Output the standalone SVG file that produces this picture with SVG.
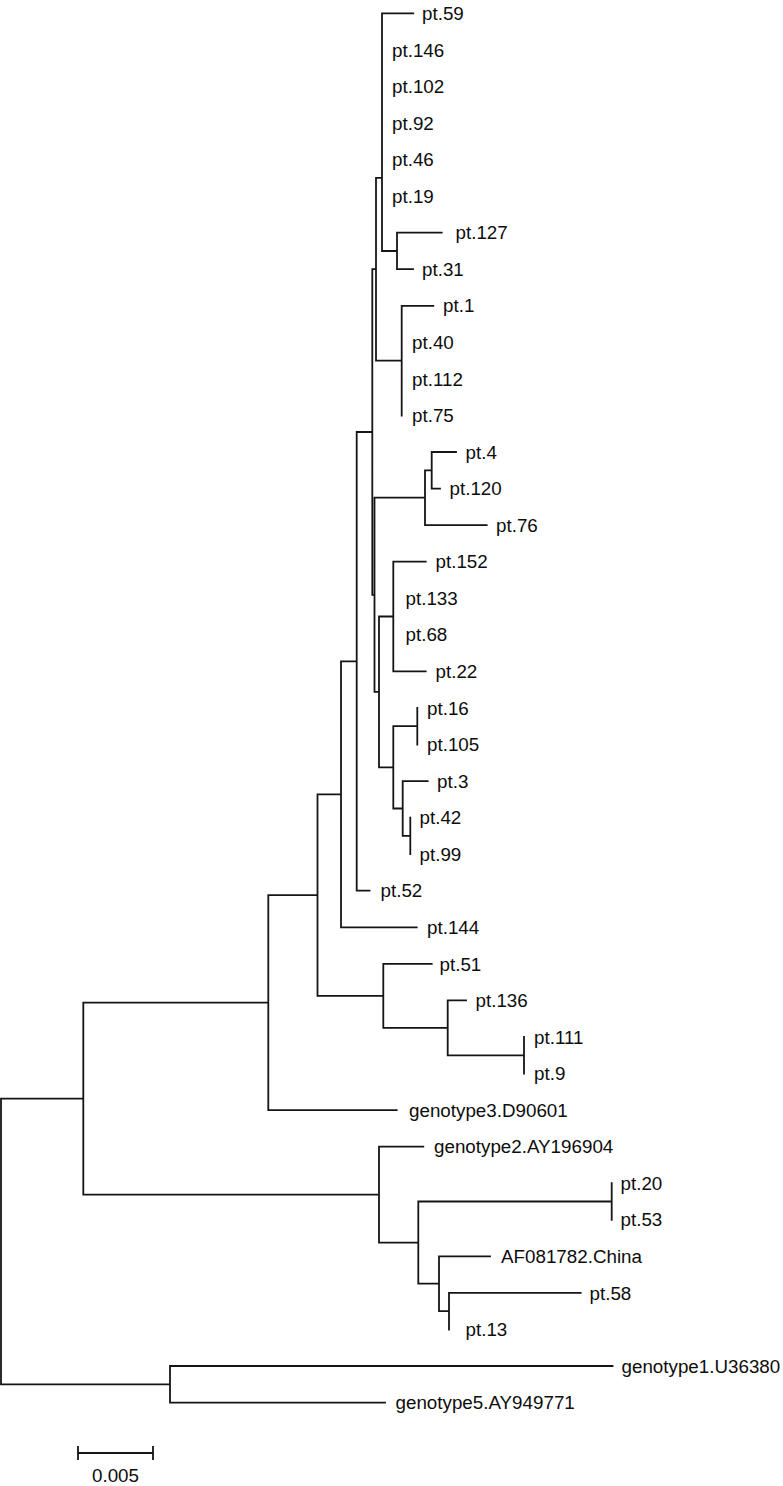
<svg xmlns="http://www.w3.org/2000/svg" width="783" height="1486" viewBox="0 0 783 1486">
<style>
.br{fill:none;stroke:#151515;stroke-width:1.8;stroke-linecap:square}
text{font-family:"Liberation Sans",Arial,Helvetica,sans-serif;font-size:18.8px;fill:#0d0d0d}
</style>
<rect width="783" height="1486" fill="#ffffff"/>
<g id="branches" class="br">
<path d="M1,1098.6 V1384.3 M1,1098.6 H83.3 M1,1384.3 H170
M83.3,1002.6 V1194.7 M83.3,1002.6 H268.3 M83.3,1194.7 H379
M268.3,895.1 V1110.1 M268.3,895.1 H317.5 M268.3,1110.1 H396.7
M317.5,794.3 V995.9 M317.5,794.3 H341 M317.5,995.9 H383.3
M341,661.3 V927.3 M341,661.3 H356.7 M341,927.3 H416.7
M356.7,432 V890.7 M356.7,432 H372.3 M356.7,890.7 H369.5
M372.3,269.2 V594.8 M372.3,269.2 H376 M372.3,594.8 H374.5
M376,177.8 V360.6 M376,177.8 H382 M376,360.6 H401.7
M382,13.3 V251 M382,251 H397 M382,13.3 H413.3
M397,232.7 V269.2 M397,232.7 H441.7 M397,269.2 H413
M401.7,305.8 V415.5 M401.7,305.8 H433.3
M374.5,497.7 V691.9 M374.5,497.7 H425 M374.5,691.9 H379
M425,470.3 V525.1 M425,470.3 H431.7 M425,525.1 H486.7
M431.7,452 V488.6 M431.7,452 H456 M431.7,488.6 H440
M379,616.5 V767.3 M379,616.5 H393.3 M379,767.3 H393.3
M393.3,561.7 V671.4 M393.3,561.7 H425.7 M393.3,671.4 H425.7
M393.3,726.2 V808.5 M393.3,726.2 H417.3 M393.3,808.5 H402.7
M417.3,707.9 V744.5
M402.7,781.1 V835.9 M402.7,781.1 H427.7 M402.7,835.9 H410.3
M410.3,817.6 V854.2
M383.3,963.9 V1027.8 M383.3,963.9 H431.7 M383.3,1027.8 H447.7
M447.7,1000.4 V1055.3 M447.7,1000.4 H466 M447.7,1055.3 H524
M524,1037 V1073.5
M379,1146.7 V1242.6 M379,1146.7 H423.3 M379,1242.6 H418.3
M418.3,1201.5 V1283.7 M418.3,1201.5 H611.7 M418.3,1283.7 H439
M611.7,1183.2 V1219.8
M439,1256.3 V1311.2 M439,1256.3 H490 M439,1311.2 H449
M449,1292.9 V1329.5 M449,1292.9 H580.7
M170,1366 V1402.6 M170,1366 H612.5 M170,1402.6 H385"/>
</g>
<g id="tip-pt59"><text x="422" y="19.9">pt.59</text></g>
<g id="tip-pt146"><text x="392" y="56.5">pt.146</text></g>
<g id="tip-pt102"><text x="392" y="93">pt.102</text></g>
<g id="tip-pt92"><text x="392" y="129.6">pt.92</text></g>
<g id="tip-pt46"><text x="392" y="166.1">pt.46</text></g>
<g id="tip-pt19"><text x="392" y="202.7">pt.19</text></g>
<g id="tip-pt127"><text x="455.5" y="239.3">pt.127</text></g>
<g id="tip-pt31"><text x="422" y="275.8">pt.31</text></g>
<g id="tip-pt1"><text x="443" y="312.4">pt.1</text></g>
<g id="tip-pt40"><text x="412" y="348.9">pt.40</text></g>
<g id="tip-pt112"><text x="412" y="385.5">pt.112</text></g>
<g id="tip-pt75"><text x="412" y="422.1">pt.75</text></g>
<g id="tip-pt4"><text x="465.5" y="458.6">pt.4</text></g>
<g id="tip-pt120"><text x="449.5" y="495.2">pt.120</text></g>
<g id="tip-pt76"><text x="496" y="531.7">pt.76</text></g>
<g id="tip-pt152"><text x="435.5" y="568.3">pt.152</text></g>
<g id="tip-pt133"><text x="405.5" y="604.9">pt.133</text></g>
<g id="tip-pt68"><text x="405.5" y="641.4">pt.68</text></g>
<g id="tip-pt22"><text x="435.5" y="678">pt.22</text></g>
<g id="tip-pt16"><text x="427" y="714.5">pt.16</text></g>
<g id="tip-pt105"><text x="427" y="751.1">pt.105</text></g>
<g id="tip-pt3"><text x="437" y="787.7">pt.3</text></g>
<g id="tip-pt42"><text x="419.5" y="824.2">pt.42</text></g>
<g id="tip-pt99"><text x="419.5" y="860.8">pt.99</text></g>
<g id="tip-pt52"><text x="380.5" y="897.3">pt.52</text></g>
<g id="tip-pt144"><text x="427" y="933.9">pt.144</text></g>
<g id="tip-pt51"><text x="439.5" y="970.5">pt.51</text></g>
<g id="tip-pt136"><text x="475.5" y="1007">pt.136</text></g>
<g id="tip-pt111"><text x="534" y="1043.6">pt.111</text></g>
<g id="tip-pt9"><text x="534" y="1080.1">pt.9</text></g>
<g id="tip-genotype3"><text x="409" y="1116.7">genotype3.D90601</text></g>
<g id="tip-genotype2"><text x="434" y="1153.3">genotype2.AY196904</text></g>
<g id="tip-pt20"><text x="620.5" y="1189.8">pt.20</text></g>
<g id="tip-pt53"><text x="620.5" y="1226.4">pt.53</text></g>
<g id="tip-AF081782"><text x="501" y="1262.9">AF081782.China</text></g>
<g id="tip-pt58"><text x="589.5" y="1299.5">pt.58</text></g>
<g id="tip-pt13"><text x="465.5" y="1336.1">pt.13</text></g>
<g id="tip-genotype1"><text x="621.5" y="1372.6">genotype1.U36380</text></g>
<g id="tip-genotype5"><text x="395.5" y="1409.2">genotype5.AY949771</text></g>
<g id="scale-bar">
<path class="br" d="M78,1453 H153 M78,1447 V1459 M153,1447 V1459"/>
<text x="115.5" y="1481.5" text-anchor="middle">0.005</text>
</g>
</svg>
